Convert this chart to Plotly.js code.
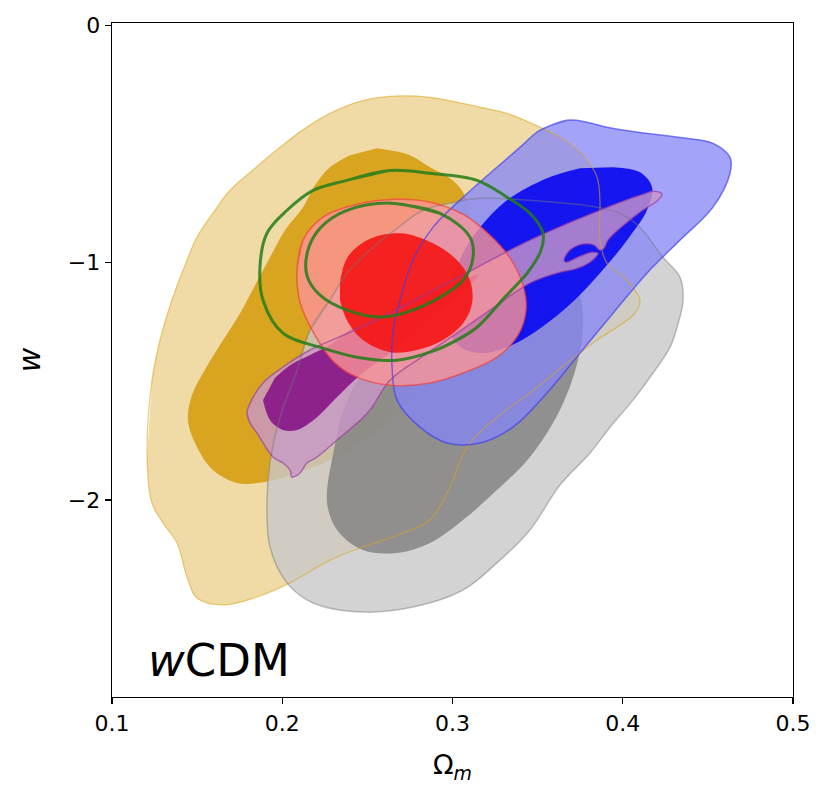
<!DOCTYPE html>
<html>
<head>
<meta charset="utf-8">
<script src="https://cdn.plot.ly/plotly-3.0.1.min.js"></script>
<style>html,body{margin:0;padding:0;background:#fff;}#chart{width:831px;height:803px;}</style>
</head>
<body>
<div id="chart"></div>
<script>
// Axis ticks
const xTickVals = [0.1, 0.2, 0.3, 0.4, 0.5];
const xTickText = ['0.1', '0.2', '0.3', '0.4', '0.5'];
const yTickVals = [0, -1, -2];
const yTickText = ['0', '\u22121', '\u22122'];

// Gold (outer 95% / inner 68%)
const goldOuterX = [0.1235,0.1282,0.1358,0.1429,0.1499,0.1605,0.1693,0.1840,0.1987,0.2134,0.2280,0.2457,0.2633,0.2868,0.3162,0.3320,0.3514,0.3661,0.3767,0.3849,0.3866,0.3866,0.3907,0.4013,0.4101,0.4072,0.3984,0.3849,0.3673,0.3455,0.3261,0.3085,0.2985,0.2868,0.2709,0.2474,0.2280,0.2046,0.1852,0.1652,0.1499,0.1441,0.1382,0.1300,0.1235,0.1206];
const goldOuterY = [-1.495,-1.326,-1.145,-1.011,-0.893,-0.779,-0.695,-0.602,-0.514,-0.434,-0.371,-0.320,-0.299,-0.303,-0.345,-0.371,-0.429,-0.484,-0.547,-0.640,-0.737,-0.905,-1.002,-1.065,-1.158,-1.213,-1.263,-1.326,-1.423,-1.549,-1.651,-1.777,-1.945,-2.084,-2.139,-2.198,-2.253,-2.349,-2.408,-2.442,-2.413,-2.324,-2.181,-2.097,-2.013,-1.819];
const goldInnerX = [0.2557,0.2750,0.2868,0.2985,0.3062,0.3103,0.3091,0.3015,0.2897,0.2750,0.2574,0.2339,0.2104,0.1899,0.1734,0.1593,0.1499,0.1446,0.1470,0.1535,0.1634,0.1752,0.1840,0.1928,0.2016,0.2122,0.2192,0.2280,0.2398];
const goldInnerY = [-0.518,-0.547,-0.598,-0.644,-0.703,-0.800,-0.947,-1.137,-1.368,-1.579,-1.705,-1.811,-1.882,-1.924,-1.928,-1.874,-1.777,-1.663,-1.558,-1.465,-1.347,-1.213,-1.095,-0.977,-0.863,-0.766,-0.674,-0.598,-0.547];

// Gray
const grayOuterX = [0.2163,0.2280,0.2380,0.2515,0.2674,0.2827,0.2985,0.3162,0.3455,0.3849,0.3984,0.4101,0.4236,0.4336,0.4354,0.4319,0.4278,0.4178,0.4060,0.3925,0.3808,0.3631,0.3455,0.3261,0.3062,0.2768,0.2474,0.2181,0.2028,0.1928,0.1910,0.1928,0.1987,0.2087];
const grayOuterY = [-1.284,-1.158,-1.044,-0.947,-0.855,-0.779,-0.749,-0.728,-0.737,-0.766,-0.792,-0.851,-0.977,-1.061,-1.158,-1.272,-1.356,-1.465,-1.579,-1.693,-1.802,-1.937,-2.126,-2.265,-2.379,-2.451,-2.472,-2.434,-2.349,-2.198,-2.013,-1.844,-1.651,-1.453];
const grayInnerX = [0.2280,0.2263,0.2322,0.2474,0.2674,0.2868,0.3062,0.3261,0.3455,0.3631,0.3737,0.3767,0.3737,0.3631,0.3455,0.3279,0.3103,0.2927,0.2750,0.2574,0.2427,0.2339];
const grayInnerY = [-1.874,-2.013,-2.126,-2.211,-2.223,-2.181,-2.084,-1.958,-1.819,-1.621,-1.411,-1.242,-1.116,-1.032,-0.998,-1.023,-1.095,-1.179,-1.284,-1.389,-1.516,-1.663];

// Blue
const blueOuterX = [0.3514,0.3673,0.3790,0.3907,0.4101,0.4336,0.4530,0.4630,0.4630,0.4530,0.4336,0.4142,0.3943,0.3749,0.3555,0.3355,0.3162,0.2968,0.2809,0.2674,0.2645,0.2650,0.2692,0.2768,0.2885,0.3062,0.3261,0.3396];
const blueOuterY = [-0.442,-0.400,-0.408,-0.429,-0.451,-0.472,-0.497,-0.556,-0.623,-0.766,-0.905,-1.044,-1.213,-1.381,-1.549,-1.693,-1.760,-1.760,-1.693,-1.579,-1.440,-1.297,-1.158,-0.989,-0.851,-0.724,-0.598,-0.514];
const blueInnerX = [0.3943,0.4101,0.4172,0.4142,0.4025,0.3866,0.3673,0.3473,0.3320,0.3162,0.3032,0.2968,0.2985,0.3056,0.3162,0.3320,0.3555,0.3749];
const blueInnerY = [-0.598,-0.619,-0.682,-0.779,-0.905,-1.044,-1.187,-1.297,-1.356,-1.381,-1.347,-1.242,-1.116,-0.968,-0.851,-0.737,-0.644,-0.602];

// Purple
const purpleOuterX = [0.1811,0.1793,0.1811,0.1887,0.2004,0.2163,0.2398,0.2633,0.3026,0.3455,0.3866,0.4101,0.4189,0.4231,0.4207,0.4101,0.3984,0.3913,0.3890,0.3866,0.3831,0.3761,0.3690,0.3655,0.3667,0.3749,0.3819,0.3855,0.3808,0.3720,0.3631,0.3455,0.3220,0.3026,0.2809,0.2633,0.2515,0.2439,0.2322,0.2204,0.2145,0.2104,0.2057,0.2046,0.2004,0.1946,0.1852];
const purpleOuterY = [-1.676,-1.634,-1.592,-1.507,-1.440,-1.368,-1.293,-1.213,-1.065,-0.905,-0.779,-0.716,-0.699,-0.712,-0.737,-0.787,-0.855,-0.905,-0.939,-0.947,-0.926,-0.922,-0.947,-0.989,-0.998,-0.973,-0.956,-0.960,-0.998,-1.027,-1.040,-1.086,-1.200,-1.297,-1.402,-1.495,-1.621,-1.676,-1.747,-1.819,-1.844,-1.886,-1.903,-1.874,-1.844,-1.819,-1.718];
const purpleInnerX = [0.1887,0.1928,0.2004,0.2087,0.2204,0.2322,0.2457,0.2692,0.2927,0.3103,0.3150,0.3044,0.2809,0.2574,0.2398,0.2280,0.2163,0.2046,0.1957];
const purpleInnerY = [-1.579,-1.663,-1.705,-1.705,-1.651,-1.566,-1.474,-1.347,-1.200,-1.095,-1.053,-1.074,-1.137,-1.221,-1.284,-1.347,-1.389,-1.432,-1.486];

// Red
const redOuterX = [0.2087,0.2122,0.2239,0.2439,0.2674,0.2868,0.3062,0.3220,0.3338,0.3414,0.3432,0.3385,0.3261,0.3062,0.2868,0.2633,0.2439,0.2310,0.2192,0.2104];
const redOuterY = [-1.032,-0.905,-0.808,-0.754,-0.733,-0.745,-0.796,-0.884,-0.981,-1.095,-1.200,-1.305,-1.398,-1.465,-1.507,-1.516,-1.482,-1.423,-1.305,-1.166];
const redInnerX = [0.2339,0.2380,0.2498,0.2692,0.2885,0.3026,0.3103,0.3115,0.3062,0.2944,0.2791,0.2633,0.2474,0.2380,0.2339];
const redInnerY = [-1.086,-0.981,-0.905,-0.876,-0.918,-0.989,-1.074,-1.171,-1.255,-1.326,-1.368,-1.377,-1.326,-1.242,-1.158];

// Green (lines only)
const greenOuterX = [0.2633,0.2380,0.2181,0.2028,0.1910,0.1869,0.1887,0.2004,0.2239,0.2439,0.2674,0.2868,0.3026,0.3144,0.3308,0.3443,0.3520,0.3532,0.3455,0.3320,0.3144,0.2868];
const greenOuterY = [-0.611,-0.653,-0.695,-0.779,-0.876,-1.019,-1.158,-1.297,-1.360,-1.398,-1.411,-1.377,-1.326,-1.272,-1.145,-1.040,-0.947,-0.876,-0.792,-0.724,-0.653,-0.623];
const greenInnerX = [0.2633,0.2927,0.3103,0.3120,0.3062,0.2927,0.2733,0.2574,0.2380,0.2222,0.2145,0.2151,0.2222,0.2369];
const greenInnerY = [-0.749,-0.792,-0.893,-0.981,-1.074,-1.145,-1.208,-1.229,-1.200,-1.137,-1.053,-0.947,-0.855,-0.783];

const SMOOTH = 1.0;
function fillTrace(x, y, color) {
  return {type: 'scatter', mode: 'lines', x: x, y: y, fill: 'toself', fillcolor: color,
    line: {width: 0, shape: 'spline', smoothing: SMOOTH, color: 'rgba(0,0,0,0)'}, hoverinfo: 'skip', showlegend: false};
}
function edgeTrace(x, y, color, w) {
  return {type: 'scatter', mode: 'lines', x: x.concat([x[0], x[1]]), y: y.concat([y[0], y[1]]),
    line: {width: w, shape: 'spline', smoothing: SMOOTH, color: color}, hoverinfo: 'skip', showlegend: false};
}

const traces = [
  fillTrace(goldOuterX, goldOuterY, 'rgba(218,165,32,0.40)'),
  fillTrace(goldInnerX, goldInnerY, 'rgba(217,165,33,1.0)'),
  fillTrace(grayOuterX, grayOuterY, 'rgba(200,200,200,0.80)'),
  fillTrace(grayInnerX, grayInnerY, 'rgba(128,128,128,0.80)'),
  fillTrace(blueOuterX, blueOuterY, 'rgba(132,132,248,0.75)'),
  fillTrace(blueInnerX, blueInnerY, 'rgba(10,10,240,0.92)'),
  fillTrace(purpleOuterX, purpleOuterY, 'rgba(200,150,200,0.80)'),
  fillTrace(purpleInnerX, purpleInnerY, 'rgba(135,20,135,0.90)'),
  fillTrace(redOuterX, redOuterY, 'rgba(250,148,150,0.80)'),
  fillTrace(redInnerX, redInnerY, 'rgba(245,20,20,0.90)'),
  edgeTrace(goldOuterX, goldOuterY, 'rgba(218,165,32,0.55)', 1.3),
  edgeTrace(grayOuterX, grayOuterY, 'rgba(120,120,120,0.45)', 1.5),
  edgeTrace(blueOuterX, blueOuterY, 'rgba(60,60,240,0.65)', 1.5),
  edgeTrace(purpleOuterX, purpleOuterY, 'rgba(150,60,160,0.65)', 1.5),
  edgeTrace(redOuterX, redOuterY, 'rgba(240,60,60,0.65)', 1.5),
  edgeTrace(greenOuterX, greenOuterY, 'rgba(34,125,24,0.85)', 3),
  edgeTrace(greenInnerX, greenInnerY, 'rgba(34,125,24,0.85)', 3)
];

const FONT = 'DejaVu Sans, Liberation Sans, sans-serif';
const layout = {
  width: 831, height: 803,
  margin: {l: 112, r: 38, t: 23, b: 106},
  paper_bgcolor: 'white', plot_bgcolor: 'white',
  showlegend: false,
  font: {family: FONT, color: 'black'},
  xaxis: {
    range: [0.1, 0.5], tickvals: xTickVals, ticktext: xTickText,
    ticks: 'outside', ticklen: 6, tickwidth: 1.2, tickcolor: 'black',
    showline: true, mirror: true, linecolor: 'black', linewidth: 1.3,
    showgrid: false, zeroline: false,
    tickfont: {family: FONT, size: 22, color: 'black'},
    title: {text: '\u03A9<sub><i>m</i></sub>', font: {family: FONT, size: 27, color: 'black'}, standoff: 20}
  },
  yaxis: {
    range: [-2.83, 0.01], tickvals: yTickVals, ticktext: yTickText,
    ticks: 'outside', ticklen: 6, tickwidth: 1.2, tickcolor: 'black',
    showline: true, mirror: true, linecolor: 'black', linewidth: 1.3,
    showgrid: false, zeroline: false,
    tickfont: {family: FONT, size: 22, color: 'black'},
    title: {text: '<i>w</i>', font: {family: FONT, size: 30, color: 'black'}, standoff: 18}
  },
  annotations: [{
    xref: 'paper', yref: 'paper', x: 0.050, y: 0.054, xanchor: 'left', yanchor: 'middle',
    text: '<i>w</i>CDM', showarrow: false, font: {family: FONT, size: 45, color: 'black'}
  }]
};

Plotly.newPlot('chart', traces, layout, {staticPlot: true, displayModeBar: false});
</script>
</body>
</html>
